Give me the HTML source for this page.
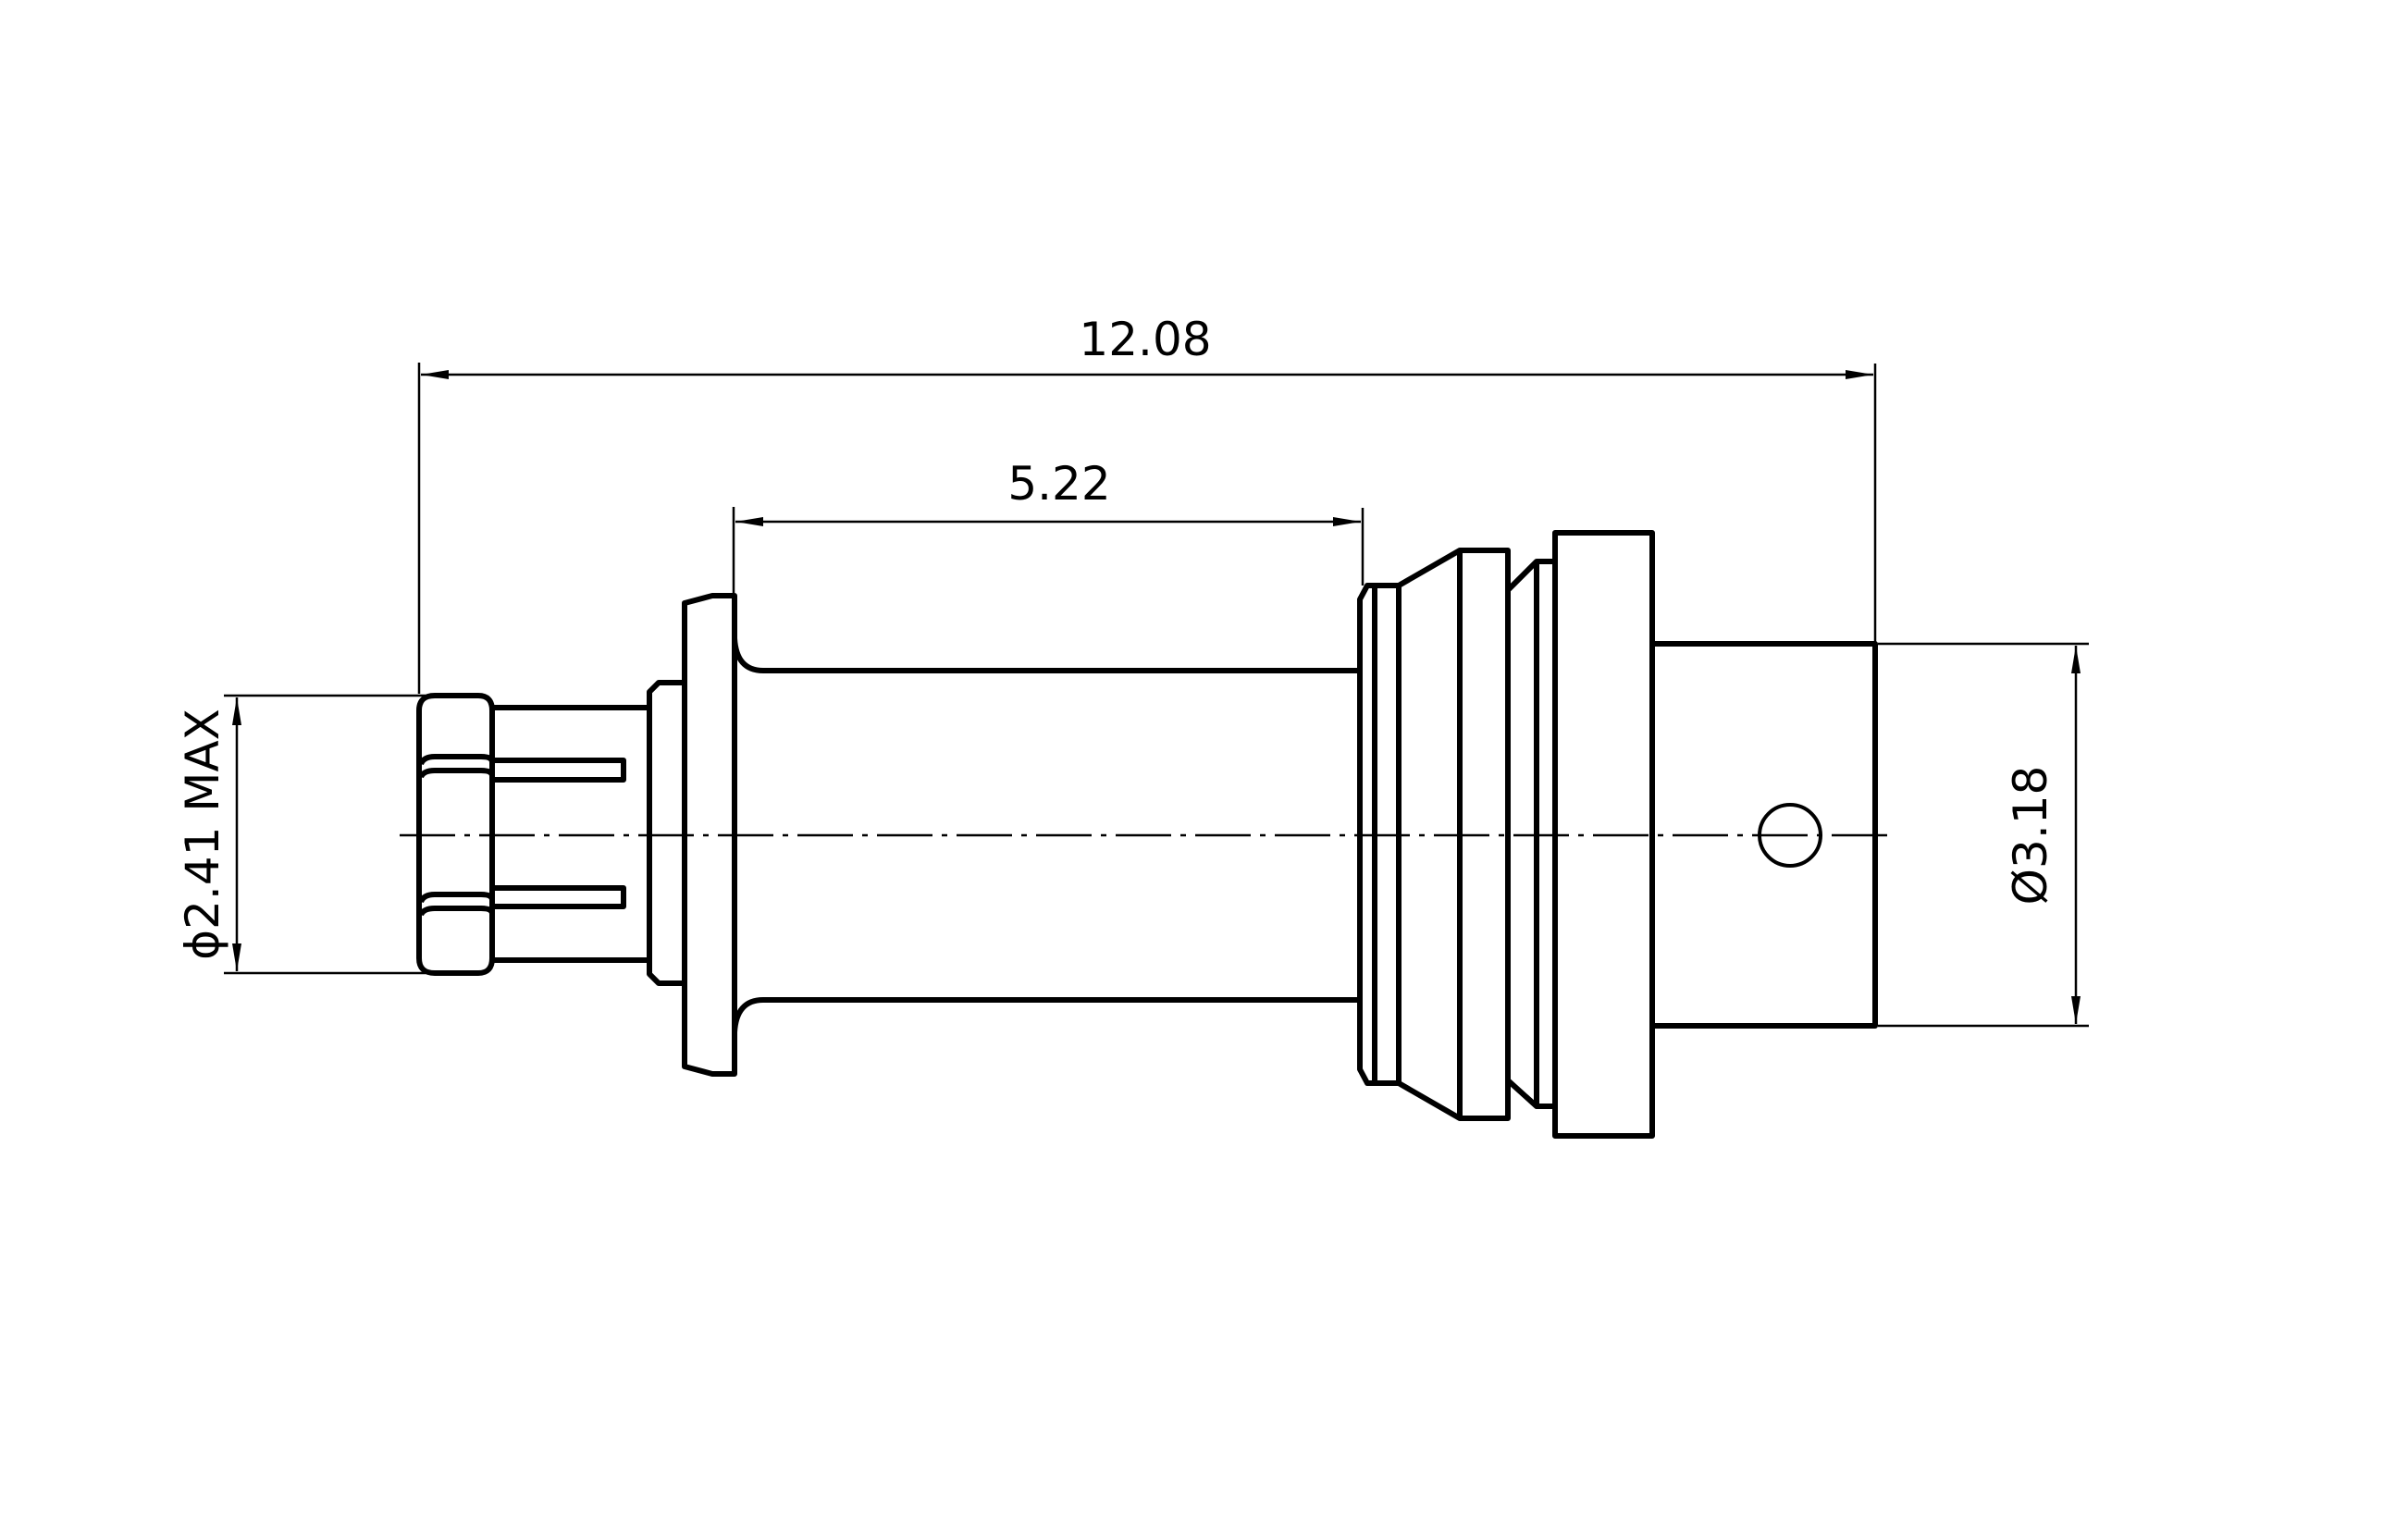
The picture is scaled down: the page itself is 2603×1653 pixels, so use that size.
<!DOCTYPE html>
<html><head><meta charset="utf-8"><style>html,body{margin:0;padding:0;background:#fff}svg{display:block}</style></head>
<body>
<svg width="2603" height="1653" viewBox="0 0 2603 1653" xmlns="http://www.w3.org/2000/svg">
<defs>
<marker id="ar" markerWidth="30" markerHeight="10" refX="30" refY="5" orient="auto" markerUnits="userSpaceOnUse">
<path d="M0,0 L30,5 L0,10 z" fill="#000"/></marker>
<marker id="al" markerWidth="30" markerHeight="10" refX="0" refY="5" orient="auto" markerUnits="userSpaceOnUse">
<path d="M30,0 L0,5 L30,10 z" fill="#000"/></marker>
</defs>
<g fill="none" stroke="#000" stroke-width="2.5">
<line x1="453" y1="392" x2="453" y2="750"/>
<line x1="2027" y1="393" x2="2027" y2="696"/>
<line x1="455" y1="405" x2="2025" y2="405" marker-start="url(#al)" marker-end="url(#ar)"/>
<line x1="793" y1="548" x2="793" y2="644"/>
<line x1="1473" y1="549" x2="1473" y2="633"/>
<line x1="795" y1="564" x2="1471" y2="564" marker-start="url(#al)" marker-end="url(#ar)"/>
<line x1="242" y1="752" x2="460" y2="752"/>
<line x1="242" y1="1052" x2="460" y2="1052"/>
<line x1="256" y1="754" x2="256" y2="1050" marker-start="url(#al)" marker-end="url(#ar)"/>
<line x1="2030" y1="696" x2="2258" y2="696"/>
<line x1="2030" y1="1109" x2="2258" y2="1109"/>
<line x1="2244" y1="698" x2="2244" y2="1107" marker-start="url(#al)" marker-end="url(#ar)"/>
<line x1="432" y1="903" x2="2050" y2="903" stroke-dasharray="60,10,6,10"/>
</g>
<g fill="none" stroke="#000" stroke-width="6" stroke-linejoin="round">
<!-- nut -->
<path d="M470,752 H517 Q532,752 532,768 V1036 Q532,1052 517,1052 H470 Q453,1052 453,1036 V768 Q453,752 470,752 Z"/>
<path d="M455,826 Q458,818 470,818 H520 Q532,818 532,824"/>
<path d="M455,840 Q458,833 470,833 H520 Q532,833 532,839"/>
<path d="M455,975 Q458,967 470,967 H520 Q532,967 532,973"/>
<path d="M455,989 Q458,982 470,982 H520 Q532,982 532,988"/>
<!-- pin body -->
<line x1="532" y1="765" x2="702" y2="765"/>
<line x1="532" y1="1038" x2="702" y2="1038"/>
<path d="M532,822 H674 V843 H532"/>
<path d="M532,960 H674 V980 H532"/>
<path d="M702,748 L712,738 H740 V1063 H712 L702,1053 Z"/>
<path d="M740,652 L770,644 H794 V1161 H770 L740,1153 Z"/>
<path d="M794,690 Q796,725 825,725 H1472"/>
<path d="M794,1116 Q796,1081 825,1081 H1472"/>
<path d="M1470,648 L1478,633 H1512 V1171 H1478 L1470,1156 Z"/>
<line x1="1486" y1="633" x2="1486" y2="1171"/>
<path d="M1512,633 L1578,595 H1630 V1209 H1578 L1512,1171"/>
<line x1="1578" y1="595" x2="1578" y2="1209"/>
<path d="M1630,638 L1661,607 H1681 V1196 H1661 L1630,1168"/>
<line x1="1661" y1="607" x2="1661" y2="1196"/>
<rect x="1681" y="576" width="105" height="652"/>
<rect x="1786" y="696" width="241" height="413"/>
</g>
<circle cx="1935" cy="903" r="33" fill="none" stroke="#000" stroke-width="4"/>
<g font-family="'DejaVu Sans','Liberation Sans',sans-serif" font-size="50" fill="#000" text-anchor="middle">
<text x="1238" y="384">12.08</text>
<text x="1145" y="540">5.22</text>
<text transform="translate(236,902) rotate(-90)">ϕ2.41 MAX</text>
<text transform="translate(2212,903) rotate(-90)">Ø3.18</text>
</g>
</svg>
</body></html>
